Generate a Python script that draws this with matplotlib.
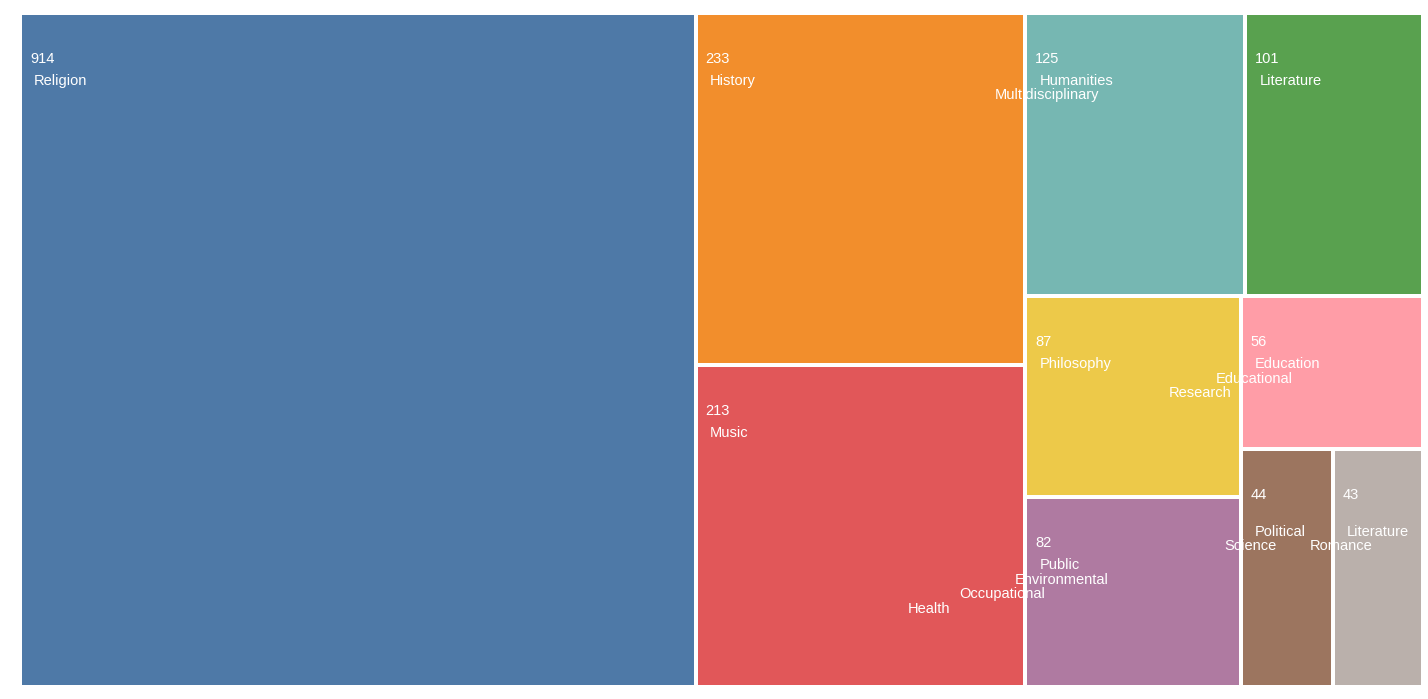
import numpy as np
import matplotlib
matplotlib.use("Agg")
import matplotlib.pyplot as plt
from matplotlib.patches import Rectangle

plt.rcParams['font.family'] = ['Liberation Sans', 'DejaVu Sans']

names = ["Religion", "History", "Music", "Humanities Multidisciplinary",
         "Literature", "Philosophy", "Public Environmental Occupational Health",
         "Education Educational Research", "Political Science",
         "Literature Romance"]
values = [914, 233, 213, 125, 101, 87, 82, 56, 44, 43]
colors = ["#4e79a7", "#f28e2c", "#e15759", "#76b7b2", "#59a14f",
          "#edc949", "#af7aa1", "#ff9da7", "#9c755f", "#bab0ab"]

W, H = 1428, 699
X0, Y0, X1, Y1 = 20, 13, 1423, 687
pad = 2


def squarify(vals, x0, y0, x1, y1, ratio=(1 + 5 ** 0.5) / 2):
    # same logic as d3.treemapSquarify
    boxes = []
    n = len(vals)
    value = float(sum(vals))
    i0 = i1 = 0
    while i0 < n:
        dx, dy = x1 - x0, y1 - y0
        s = vals[i1]
        i1 += 1
        mn = mx = s
        alpha = max(dy / dx, dx / dy) / (value * ratio)
        beta = s * s * alpha
        best = max(mx / beta, beta / mn)
        while i1 < n:
            v = vals[i1]
            s += v
            mn = min(mn, v)
            mx = max(mx, v)
            beta = s * s * alpha
            r = max(mx / beta, beta / mn)
            if r > best:
                s -= v
                break
            best = r
            i1 += 1
        row = vals[i0:i1]
        if dx < dy:
            ny = y0 + dy * s / value
            xx = x0
            for v in row:
                w = (x1 - x0) * v / s
                boxes.append((xx, y0, xx + w, ny))
                xx += w
            y0 = ny
        else:
            nx = x0 + dx * s / value
            yy = y0
            for v in row:
                h = (y1 - y0) * v / s
                boxes.append((x0, yy, nx, yy + h))
                yy += h
            x0 = nx
        value -= s
        i0 = i1
    return boxes


boxes = squarify(values, X0, Y0, X1, Y1)

fig = plt.figure(figsize=(W / 100, H / 100), dpi=100)
ax = fig.add_axes([0, 0, 1, 1])
ax.set_xlim(0, W)
ax.set_ylim(H, 0)
ax.axis('off')

for (bx0, by0, bx1, by1), c in zip(boxes, colors):
    ax.add_patch(Rectangle((bx0 + pad, by0 + pad), bx1 - bx0 - 2 * pad,
                           by1 - by0 - 2 * pad, facecolor=c, edgecolor='none'))

renderer = fig.canvas.get_renderer()
fs = 10.5
lh = 14.5
for (bx0, by0, bx1, by1), name, v in zip(boxes, names, values):
    ax.text(bx0 + pad + 8, by0 + pad + 48, str(v), color='white',
            fontsize=fs, va='baseline', ha='left')
    x = bx0 + pad + 12
    y = by0 + pad + 70
    if bx1 - bx0 < 100:
        y += lh  # narrow boxes start one line lower
    for word in name.split():
        t = ax.text(x, y, word, color='white', fontsize=fs,
                    va='baseline', ha='left')
        w = t.get_window_extent(renderer).width
        x = x - 0.6 * w
        y += lh

fig.savefig('out.png', dpi=100)
